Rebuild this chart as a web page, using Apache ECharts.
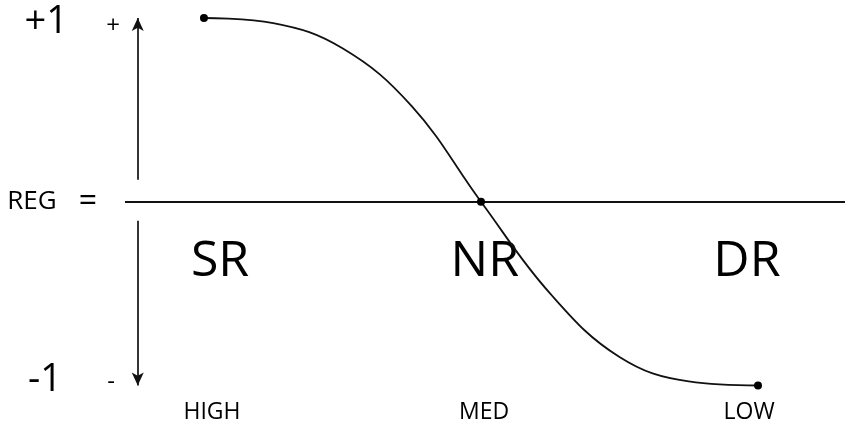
<!DOCTYPE html>
<html>
<head>
<meta charset="utf-8">
<script src="https://cdn.jsdelivr.net/npm/echarts@6/dist/echarts.min.js"></script>
<style>
  html, body { margin: 0; padding: 0; background: #fff; }
  #chart { width: 851px; height: 433px; }
</style>
</head>
<body>
<div id="chart"></div>
<script>
// curve (x: HIGH -1 .. MED 0 .. LOW 1, y: REG -1 .. +1)
const curveX = [-1.0, -0.75, -0.5, -0.25, 0, 0.25, 0.5, 0.75, 1.0]
const curveY = [1.0, 0.972, 0.835, 0.52, 0, -0.50, -0.845, -0.978, -1.0]

// marked points on the curve
const dotX = [-1.0, 0, 1.0]
const dotY = [1.0, 0, -1.0]

// region names
const regionNames = ['SR', 'NR', 'DR']
const regionX = [-0.942, 0.014, 0.96]
const regionY = [-0.325, -0.325, -0.325]

// bottom labels
const levelNames = ['HIGH', 'MED', 'LOW']
const levelX = [-0.971, 0.011, 0.968]

const FONT = '"Open Sans", "Noto Sans", sans-serif'
const INK = '#000'

let chartDom = document.getElementById('chart')
let myChart = echarts.init(chartDom, null, { renderer: 'canvas' })

const arrowX = -1.239

let option = {
  animation: false,
  backgroundColor: '#fff',
  textStyle: { fontFamily: FONT, color: INK },
  grid: { left: 125, right: 6, top: 18, bottom: 47.5 },
  xAxis: {
    type: 'value',
    min: -1.285,
    max: 1.314,
    axisLine: { show: false },
    axisTick: { show: false },
    splitLine: { show: false },
    axisLabel: {
      customValues: levelX,
      margin: 15,
      fontSize: 23,
      fontFamily: FONT,
      color: INK,
      formatter: (v) => {
        let i = levelX.indexOf(v)
        return i >= 0 ? levelNames[i] : ''
      }
    }
  },
  yAxis: [
    {
      type: 'value',
      min: -1,
      max: 1,
      interval: 1,
      axisLine: { show: false },
      axisTick: { show: false },
      splitLine: { show: false },
      axisLabel: {
        margin: 28,
        color: INK,
        fontFamily: FONT,
        formatter: (v) => {
          if (v === 1) return '{p|+1}'
          if (v === -1) return '{m|-1}'
          return '{r|REG}{e|=}'
        },
        rich: {
          p: { fontSize: 38, fontFamily: FONT, color: INK, padding: [9, 29, 0, 0] },
          m: { fontSize: 38, fontFamily: FONT, color: INK, padding: [0, 35, 10, 0] },
          r: { fontSize: 26, fontFamily: FONT, color: INK },
          e: { fontSize: 32, fontFamily: FONT, color: INK, padding: [0, 0, 0, 22] }
        }
      }
    },
    {
      type: 'value',
      position: 'left',
      min: -1,
      max: 1,
      interval: 1,
      axisLine: { show: false },
      axisTick: { show: false },
      splitLine: { show: false },
      axisLabel: {
        margin: 5,
        color: INK,
        fontFamily: FONT,
        formatter: (v) => {
          if (v === 1) return '{p|+}'
          if (v === -1) return '{m|-}'
          return ''
        },
        rich: {
          p: { fontSize: 24, fontFamily: FONT, color: INK, padding: [16, 0, 0, 0] },
          m: { fontSize: 24, fontFamily: FONT, color: INK, padding: [0, 5, 6, 0] }
        }
      }
    }
  ],
  series: [
    {
      name: 'curve',
      type: 'line',
      data: curveX.map((x, i) => [x, curveY[i]]),
      smooth: 0.4,
      symbol: 'none',
      clip: false,
      lineStyle: { color: '#111', width: 1.8 },
      markLine: {
        silent: true,
        symbol: ['none', 'arrow'],
        symbolSize: [9, 13],
        label: { show: false },
        lineStyle: { color: '#111', width: 1.7, type: 'solid' },
        data: [
          [{ coord: [arrowX, 0.12] }, { coord: [arrowX, 1] }],
          [{ coord: [arrowX, -0.103] }, { coord: [arrowX, -1] }]
        ]
      }
    },
    {
      name: 'dots',
      type: 'scatter',
      data: dotX.map((x, i) => [x, dotY[i]]),
      symbolSize: 8,
      clip: false,
      itemStyle: { color: INK, opacity: 1 },
      z: 5,
      markLine: {
        silent: true,
        symbol: 'none',
        label: { show: false },
        lineStyle: { color: '#111', width: 2, type: 'solid' },
        data: [{ yAxis: 0 }]
      }
    },
    {
      name: 'regions',
      type: 'scatter',
      data: regionX.map((x, i) => [x, regionY[i], regionNames[i]]),
      symbolSize: 0,
      clip: false,
      silent: true,
      itemStyle: { opacity: 1 },
      label: {
        show: true,
        position: 'inside',
        fontSize: 50,
        fontFamily: FONT,
        color: INK,
        opacity: 1,
        formatter: (p) => p.value[2]
      }
    }
  ]
}

myChart.setOption(option)
</script>
</body>
</html>
